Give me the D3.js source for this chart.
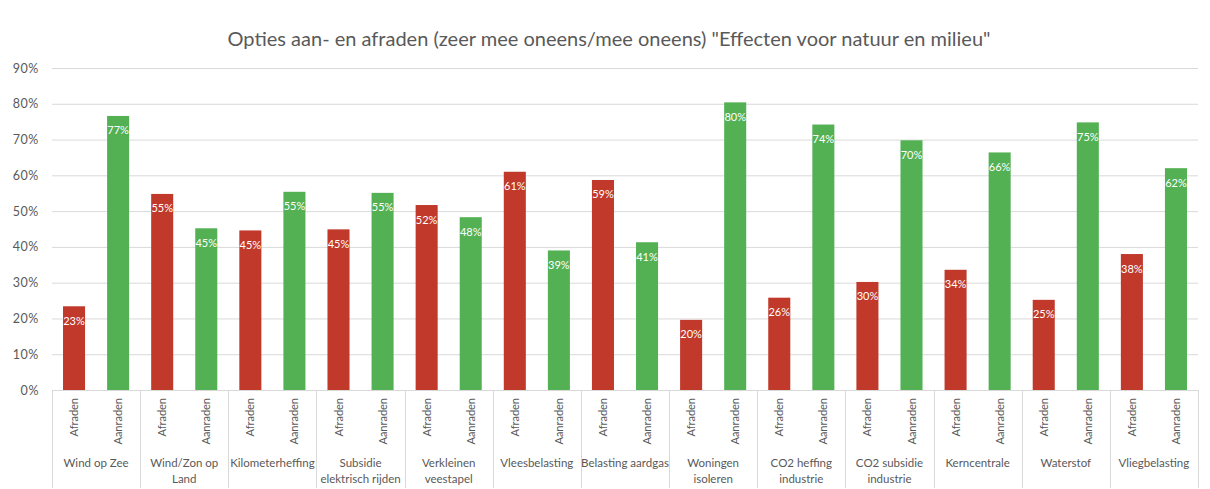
<!DOCTYPE html>
<html>
<head>
<meta charset="utf-8">
<script src="https://cdn.jsdelivr.net/npm/d3@7"></script>
<style>
  html, body { margin: 0; padding: 0; background: #fff; }
  svg { display: block; font-family: Lato, "Open Sans", sans-serif; }
</style>
</head>
<body>
<svg id="chart" width="1210" height="489"></svg>
<script>
const title = 'Opties aan- en afraden (zeer mee oneens/mee oneens) "Effecten voor natuur en milieu"';
const categories = [
  ["Wind op Zee"], ["Wind/Zon op", "Land"], ["Kilometerheffing"], ["Subsidie", "elektrisch rijden"],
  ["Verkleinen", "veestapel"], ["Vleesbelasting"], ["Belasting aardgas"], ["Woningen", "isoleren"],
  ["CO2 heffing", "industrie"], ["CO2 subsidie", "industrie"], ["Kerncentrale"], ["Waterstof"], ["Vliegbelasting"]
];
const seriesNames = ["Afraden", "Aanraden"];
const afraden  = [0.234, 0.548, 0.446, 0.449, 0.517, 0.610, 0.587, 0.196, 0.258, 0.302, 0.336, 0.252, 0.380];
const aanraden = [0.766, 0.452, 0.554, 0.551, 0.483, 0.390, 0.413, 0.804, 0.742, 0.698, 0.664, 0.748, 0.620];
const yTicks = [0, 0.1, 0.2, 0.3, 0.4, 0.5, 0.6, 0.7, 0.8, 0.9];
const colors = { Afraden: "#c0392a", Aanraden: "#53b154" };

const svg = d3.select("#chart");
const mLeft = 52, mRight = 1198, mTop = 68, mBottom = 390;

const y = d3.scaleLinear().domain([0, 0.9]).range([mBottom, mTop]);
const bars = [];
categories.forEach((c, i) => {
  bars.push({ cat: i, s: seriesNames[0], v: afraden[i] });
  bars.push({ cat: i, s: seriesNames[1], v: aanraden[i] });
});
const xBar = d3.scaleBand().domain(d3.range(bars.length)).range([mLeft, mRight]).paddingInner(0.5).paddingOuter(0.25);
const xCat = d3.scaleBand().domain(d3.range(categories.length)).range([mLeft, mRight]);

// title
svg.append("text").attr("x", 609).attr("y", 46).attr("text-anchor", "middle")
  .attr("font-size", 20).attr("fill", "#595959").text(title);

// gridlines + y labels
const yAxis = d3.axisLeft(y).tickValues(yTicks).tickFormat(d3.format(".0%")).tickSize(-(mRight - mLeft)).tickPadding(13);
const gy = svg.append("g").attr("transform", `translate(${mLeft},0)`).call(yAxis);
gy.select(".domain").remove();
gy.selectAll(".tick line").attr("stroke", "#d9d9d9").attr("stroke-width", 1);
gy.selectAll(".tick text").attr("fill", "#595959").attr("font-size", 12.5).attr("letter-spacing", 0.6)
  .attr("font-family", "Lato, sans-serif");

// bars
svg.append("g").selectAll("rect").data(bars).join("rect")
  .attr("x", (d, i) => xBar(i)).attr("width", xBar.bandwidth())
  .attr("y", d => y(d.v)).attr("height", d => y(0) - y(d.v))
  .attr("fill", d => colors[d.s]);

// data labels
svg.append("g").selectAll("text").data(bars).join("text")
  .attr("x", (d, i) => xBar(i) + xBar.bandwidth() / 2).attr("y", d => y(d.v) + 18.5)
  .attr("text-anchor", "middle").attr("font-size", 11).attr("fill", "#ffffff")
  .text(d => d3.format(".0%")(d.v));

// x axis line
svg.append("line").attr("x1", mLeft).attr("x2", mRight).attr("y1", mBottom + 0.5).attr("y2", mBottom + 0.5)
  .attr("stroke", "#d9d9d9");
// group separators
const seps = d3.range(categories.length + 1).map(i => i < categories.length ? xCat(i) : mRight);
svg.append("g").selectAll("line").data(seps).join("line")
  .attr("x1", d => Math.round(d) + 0.5).attr("x2", d => Math.round(d) + 0.5)
  .attr("y1", mBottom).attr("y2", 488).attr("stroke", "#d9d9d9");

// series labels (rotated)
svg.append("g").selectAll("text").data(bars).join("text")
  .attr("transform", (d, i) => `translate(${xBar(i) + xBar.bandwidth() / 2 + 4},398) rotate(-90)`)
  .attr("text-anchor", "end").attr("font-size", 11).attr("fill", "#595959")
  .text(d => d.s);

// category labels
const cg = svg.append("g").selectAll("text").data(categories).join("text")
  .attr("x", (d, i) => xCat(i) + xCat.bandwidth() / 2).attr("y", 467)
  .attr("text-anchor", "middle").attr("font-size", 11.5).attr("fill", "#595959");
cg.selectAll("tspan").data(d => d).join("tspan")
  .attr("x", function() { return d3.select(this.parentNode).attr("x"); })
  .attr("dy", (d, i) => i === 0 ? 0 : 16).text(d => d);
</script>
</body>
</html>
